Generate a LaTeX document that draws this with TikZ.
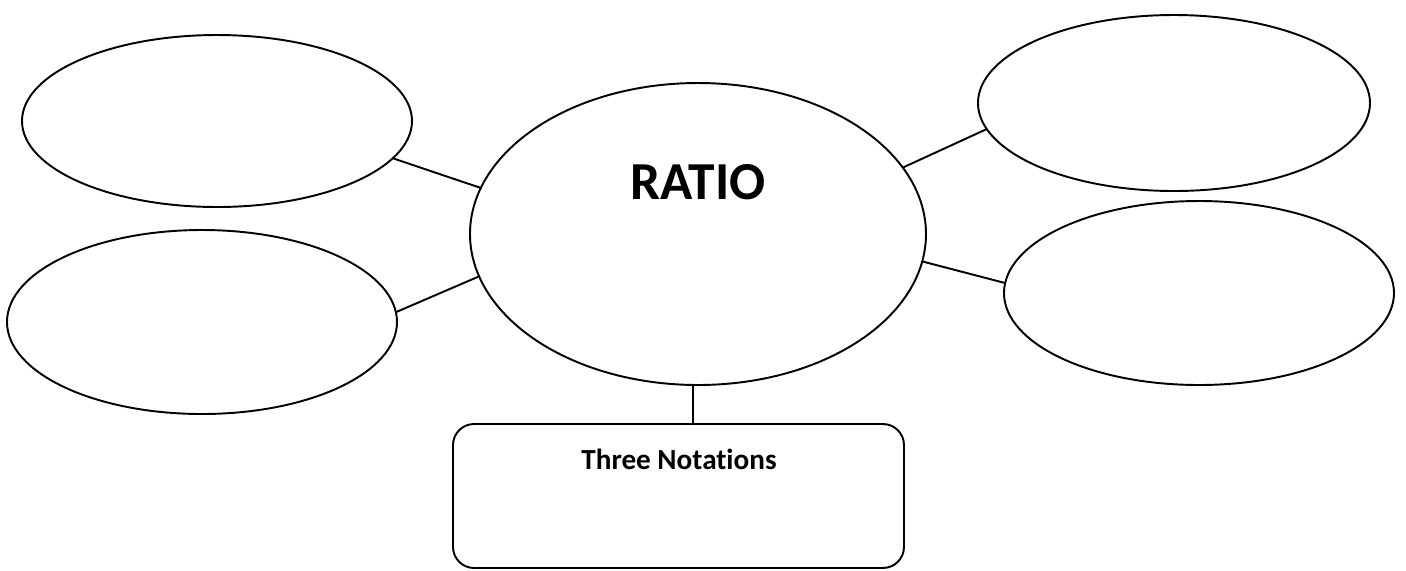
\documentclass[tikz,border=0pt]{standalone}
\usepackage{fontspec}
\setmainfont[Ligatures=NoCommon]{Carlito}
\usetikzlibrary{shapes.geometric}
\begin{document}
\begin{tikzpicture}[x=0.1mm,y=-0.1mm,
  bubble/.style={draw, ellipse, line width=0.55pt, inner sep=0pt},
  link/.style={draw, line width=0.55pt},
  notebox/.style={draw, rounded corners=6pt, line width=0.55pt, inner sep=0pt, minimum width=45.1mm, minimum height=14.4mm}]
\useasboundingbox (0,0) rectangle (1406,570);
\node[bubble, minimum width=39mm, minimum height=17.2mm] (tl) at (217,121) {};
\node[bubble, minimum width=39mm, minimum height=18.4mm] (bl) at (202,322) {};
\node[bubble, minimum width=45.6mm, minimum height=30.2mm] (c) at (698,234) {};
\node[bubble, minimum width=39.2mm, minimum height=17.6mm] (tr) at (1174,103) {};
\node[bubble, minimum width=39mm, minimum height=18.4mm] (br) at (1199,293) {};
\node[notebox] (box) at (678.5,496) {};
\node[font=\fontsize{15.2}{18}\selectfont\bfseries, anchor=base] (ratio) at (698,199) {RATIO};
\node[font=\fontsize{8.3}{10}\selectfont\bfseries, anchor=base] (three) at (679,469) {Three Notations};
\draw[link] (tl.-12.5) -- (c.168.7);
\draw[link] (bl.3.2) -- (c.-169.3);
\draw[link] (tr.-172.6) -- (c.18.2);
\draw[link] (br.177.6) -- (c.-7.2);
\draw[link] (c.-92.7) -- (c.-92.7 |- box.north);
\end{tikzpicture}
\end{document}
